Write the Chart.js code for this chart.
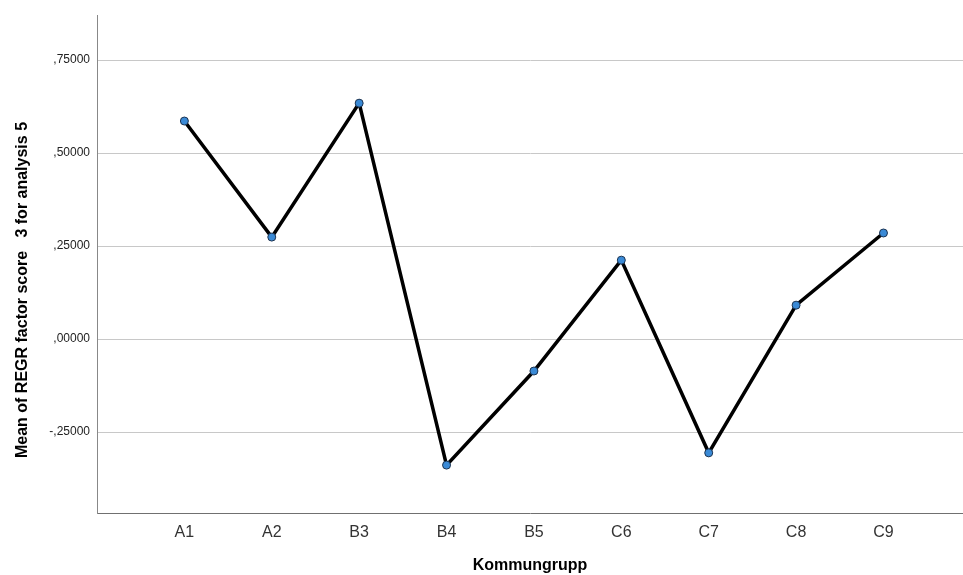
<!DOCTYPE html>
<html lang="sv">
<head>
<meta charset="UTF-8">
<title>Kommungrupp</title>
<style>
    html, body { margin: 0; padding: 0; background: #ffffff; overflow: hidden; }
    #chart { display: block; }
</style>
<script src="https://cdn.jsdelivr.net/npm/chart.js@4.4.1/dist/chart.umd.min.js"></script>
</head>
<body>
<canvas id="chart" width="963" height="575"></canvas>
<script>
    // values
    const groups = ['A1', 'A2', 'B3', 'B4', 'B5', 'C6', 'C7', 'C8', 'C9'];
    const meanScore = [0.586, 0.274, 0.634, -0.339, -0.086, 0.212, -0.306, 0.091, 0.285];
    const yTicks = [-0.25, 0, 0.25, 0.5, 0.75];
    const yTitle = 'Mean of REGR factor score   3 for analysis 5';

    const FONT = 'Arial, "Liberation Sans", sans-serif';

    // SPSS style label: ,75000 / -,25000
    function fmt(v) {
        let s = Math.abs(v).toFixed(5).replace(/^0\./, ',');
        return (v < 0 ? '-' : '') + s;
    }

    // SPSS puts the y title a bit below the middle of the plot, so draw it by hand
    const yTitlePlugin = {
        id: 'yTitle',
        afterDraw(chart) {
            const ctx = chart.ctx;
            const area = chart.chartArea;
            ctx.save();
            ctx.translate(23, (area.top + area.bottom) / 2 + 26);
            ctx.rotate(-Math.PI / 2);
            ctx.font = 'bold 16px ' + FONT;
            ctx.fillStyle = '#000000';
            ctx.textAlign = 'center';
            ctx.textBaseline = 'middle';
            ctx.fillText(yTitle, 0, 0);
            ctx.restore();
        }
    };

    const points = groups.map((g, i) => ({ x: i + 1, y: meanScore[i] }));

    new Chart(document.getElementById('chart'), {
        type: 'line',
        data: {
            datasets: [{
                data: points,
                borderColor: '#000000',
                borderWidth: 3.5,
                pointRadius: 4,
                pointBackgroundColor: '#3a8ad6',
                pointBorderColor: '#1c3350',
                pointBorderWidth: 1,
                tension: 0,
                clip: false
            }]
        },
        options: {
            responsive: false,
            animation: false,
            layout: { autoPadding: false, padding: { left: 14, top: 15, right: 0, bottom: 0 } },
            plugins: { legend: { display: false }, tooltip: { enabled: false } },
            scales: {
                x: {
                    type: 'linear',
                    min: 0,
                    max: 9.91,
                    afterBuildTicks: (scale) => {
                        scale.ticks = groups.map((g, i) => ({ value: i + 1 }));
                    },
                    afterFit: (scale) => { scale.height = 62; },
                    grid: { display: false, drawTicks: false },
                    border: { color: '#707070', width: 1 },
                    ticks: {
                        padding: 10,
                        color: '#333333',
                        font: { family: FONT, size: 16 },
                        callback: (v) => groups[v - 1] || ''
                    },
                    title: {
                        display: true,
                        text: 'Kommungrupp',
                        color: '#000000',
                        padding: { top: 4, bottom: 0 },
                        font: { family: FONT, size: 16, weight: 'bold' }
                    }
                },
                y: {
                    min: -0.4677,
                    max: 0.871,
                    afterBuildTicks: (scale) => {
                        scale.ticks = yTicks.map(v => ({ value: v }));
                    },
                    afterFit: (scale) => { scale.width = 83; },
                    grid: { color: '#c8c8c8', lineWidth: 1, drawTicks: false },
                    border: { color: '#888888', width: 1 },
                    ticks: {
                        padding: 7,
                        color: '#222222',
                        font: { family: FONT, size: 12 },
                        callback: (v) => fmt(v)
                    },
                    title: { display: false }
                }
            }
        },
        plugins: [yTitlePlugin]
    });
</script>
</body>
</html>
